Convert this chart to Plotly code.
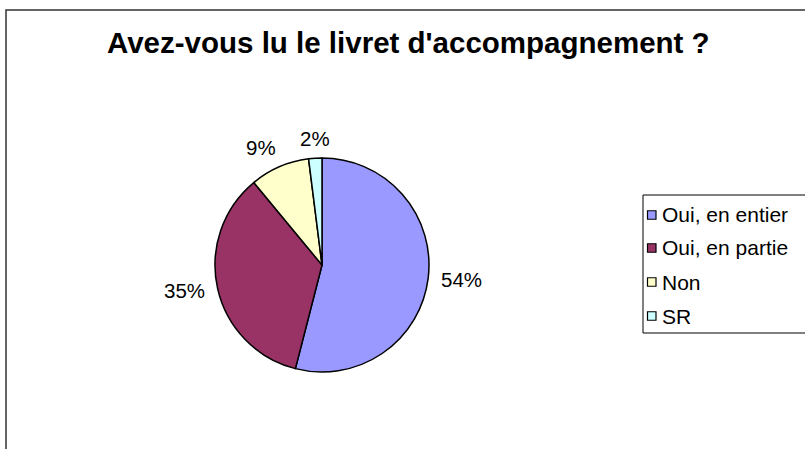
import math
import plotly.graph_objects as go

W, H = 805, 449

title_text = "Avez-vous lu le livret d'accompagnement ?"
categories = ["Oui, en entier", "Oui, en partie", "Non", "SR"]
values = [54, 35, 9, 2]
colors = ["#9999FF", "#993366", "#FFFFCC", "#CCFFFF"]

FONT = "Liberation Sans, Arial, sans-serif"

def px_x(x):
    return x / W

def px_y(y):
    return 1 - y / H

# pie placement (pixels)
cx, cy, r = 322, 265, 107

fig = go.Figure()
fig.add_trace(go.Pie(
    labels=categories,
    values=values,
    sort=False,
    direction="clockwise",
    rotation=0,
    marker=dict(colors=colors, line=dict(color="#000000", width=1.5)),
    textinfo="none",
    domain=dict(x=[px_x(cx - r), px_x(cx + r)], y=[px_y(cy + r), px_y(cy - r)]),
    showlegend=False,
    hoverinfo="label+percent",
))

annotations = []

# percentage labels outside the slices, placed from the slice mid-angles
total = float(sum(values))
gap = 12
cum = 0.0
for v in values:
    mid = (cum + v / 2.0) / total * 2 * math.pi
    cum += v
    s, c = math.sin(mid), math.cos(mid)
    g = gap if c <= 0.3 else gap - 5
    ax = cx + (r + g) * s
    ay = cy - (r + g) * c
    xa = "left" if s > 0.3 else ("right" if s < -0.3 else "center")
    ya = "bottom" if c > 0.3 else ("top" if c < -0.3 else "middle")
    annotations.append(dict(
        text="%d%%" % round(100 * v / total),
        xref="paper", yref="paper", x=px_x(ax), y=px_y(ay),
        xanchor=xa, yanchor=ya, showarrow=False, borderpad=0,
        font=dict(family=FONT, size=20.5, color="#000000")))

shapes = []
# chart border
shapes.append(dict(type="rect", xref="paper", yref="paper",
                   x0=px_x(6), x1=1.05, y0=-0.05, y1=px_y(10),
                   line=dict(color="#333333", width=1.5), fillcolor="rgba(0,0,0,0)"))
# legend box
leg_left, leg_top, leg_bottom = 643, 195, 333
shapes.append(dict(type="rect", xref="paper", yref="paper",
                   x0=px_x(leg_left), x1=1.05, y0=px_y(leg_bottom), y1=px_y(leg_top),
                   line=dict(color="#000000", width=1), fillcolor="#FFFFFF"))

row_y = [215, 248, 282, 316]
for lab, col, yy in zip(categories, colors, row_y):
    shapes.append(dict(type="rect", xref="paper", yref="paper",
                       x0=px_x(647.5), x1=px_x(656), y0=px_y(yy + 4.25), y1=px_y(yy - 4.25),
                       line=dict(color="#000000", width=1.2), fillcolor=col))
    annotations.append(dict(text=lab, xref="paper", yref="paper",
                            x=px_x(659.5), y=px_y(yy), xanchor="left", yanchor="middle",
                            showarrow=False,
                            font=dict(family=FONT, size=21, color="#000000")))

annotations.append(dict(text="<b>" + title_text + "</b>", xref="paper", yref="paper",
                        x=px_x(408), y=px_y(43), xanchor="center", yanchor="middle",
                        showarrow=False,
                        font=dict(family=FONT, size=29.5, color="#000000")))

fig.update_layout(
    width=W, height=H,
    margin=dict(l=0, r=0, t=0, b=0),
    paper_bgcolor="#FFFFFF",
    plot_bgcolor="#FFFFFF",
    shapes=shapes,
    annotations=annotations,
)

fig.write_html("out.html", config={"displayModeBar": False},
               post_script="document.body.style.margin='0px';")
